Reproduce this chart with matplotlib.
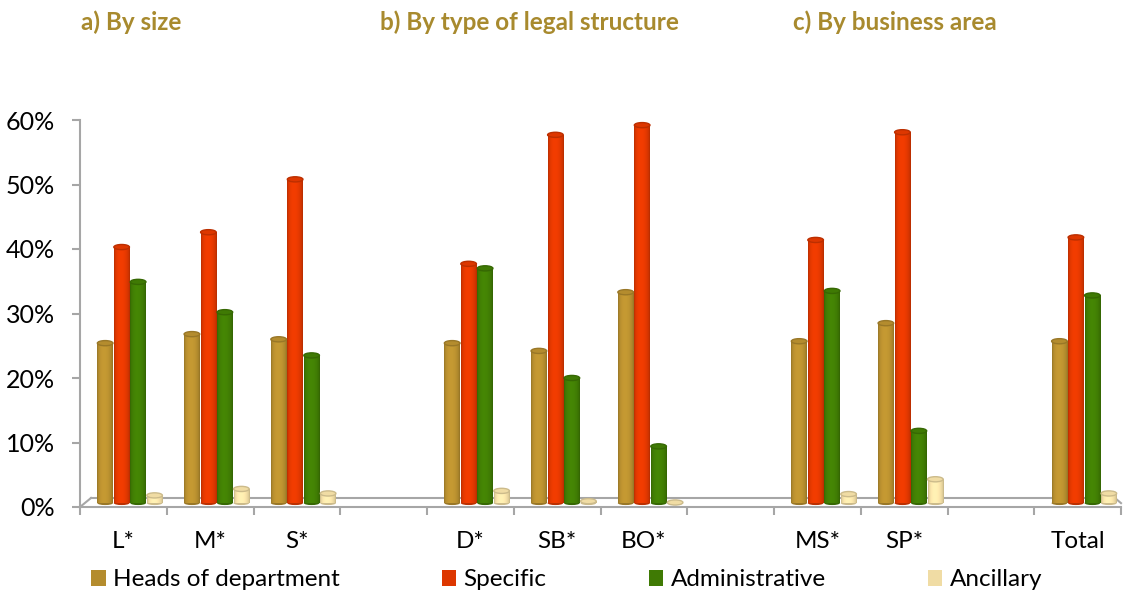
import numpy as np
import matplotlib
matplotlib.use("Agg")
import matplotlib.pyplot as plt
from matplotlib.patches import Ellipse, Rectangle
from matplotlib.colors import to_rgb
from matplotlib.ticker import PercentFormatter

plt.rcParams['font.family'] = ['Lato', 'DejaVu Sans']

categories = ['L*', 'M*', 'S*', '', 'D*', 'SB*', 'BO*', '', 'MS*', 'SP*', '', 'Total']
heads =          [0.248, 0.262, 0.254, None, 0.248, 0.236, 0.327, None, 0.251, 0.279, None, 0.251]
specific =       [0.397, 0.420, 0.502, None, 0.371, 0.571, 0.586, None, 0.408, 0.575, None, 0.412]
administrative = [0.343, 0.296, 0.229, None, 0.364, 0.194, 0.088, None, 0.329, 0.112, None, 0.322]
ancillary =      [0.012, 0.022, 0.015, None, 0.019, 0.003, 0.001, None, 0.014, 0.037, None, 0.015]

series_names = ['Heads of department', 'Specific', 'Administrative', 'Ancillary']
series_values = [heads, specific, administrative, ancillary]
colors = ['#B48C2E', '#DD3700', '#3F7A04', '#F0DCA4']
group_titles = ['a) By size', 'b) By type of legal structure', 'c) By business area']

fig = plt.figure(figsize=(11.24, 5.94), dpi=100)
ax = fig.add_axes([80/1124, 1-507/594, (1121-80)/1124, (507-120)/594])

gray = '#A6A6A6'
bw = 0.18
step = 0.19
shift = 0.075
floor = 0.006
n = len(categories)
x = np.arange(n)


def shade_img(color):
    t = np.linspace(0, 1, 64)
    f = 0.78 + 0.32 * np.clip(np.sin(np.pi * (t ** 0.85)), 0, 1) ** 0.5
    c = np.array(to_rgb(color))
    rgb = np.clip(c[None, :] * f[:, None], 0, 1)
    return rgb[None, :, :]


for si, (vals, col) in enumerate(zip(series_values, colors)):
    img = shade_img(col)
    for i, v in enumerate(vals):
        if v is None:
            continue
        xc = x[i] + shift + (si - 1.5) * step
        bars = ax.bar(xc, v, width=bw, bottom=floor, color=col, edgecolor='none', zorder=2)
        patch = bars.patches[0]
        im = ax.imshow(img, extent=[xc - bw/2, xc + bw/2, floor, floor + v],
                       aspect='auto', zorder=2.1, interpolation='bilinear')
        im.set_clip_path(patch)
        top_c = np.clip(np.array(to_rgb(col)) * 0.85, 0, 1)
        ax.add_patch(Ellipse((xc, floor + v), bw, 0.008, facecolor=col,
                             edgecolor=top_c, linewidth=1.0, zorder=2.2))
        ax.add_patch(Ellipse((xc, floor), bw, 0.006, facecolor=top_c,
                             edgecolor='none', zorder=1.9))

# floor (3D base)
dx = 0.127
dy = 0.014
ax.plot([-0.5, -0.5 + dx], [0, dy], color=gray, lw=1.5, clip_on=False, zorder=1)
ax.plot([-0.5 + dx, n - 0.5 - 0.07], [dy, dy], color=gray, lw=1.5, clip_on=False, zorder=1)
ax.plot([n - 0.5 - 0.07, n - 0.5], [dy, dy - 0.008], color=gray, lw=1.5, clip_on=False, zorder=1)

ax.set_xlim(-0.5, n - 0.5)
ax.set_ylim(0, 0.6)
ax.set_yticks(np.arange(0, 0.61, 0.1))
ax.yaxis.set_major_formatter(PercentFormatter(1.0, decimals=0))
ax.set_xticks(x)
ax.set_xticklabels(categories)
ax.set_xticks(np.arange(-0.5, n, 1.0), minor=True)
ax.tick_params(axis='x', which='major', length=0, pad=17, labelsize=17.5)
ax.tick_params(axis='x', which='minor', length=6, width=1.5, color=gray)
ax.tick_params(axis='y', length=6, width=1.5, color=gray, pad=12, labelsize=18)

for s in ['top', 'right']:
    ax.spines[s].set_visible(False)
for s in ['left', 'bottom']:
    ax.spines[s].set_color(gray)
    ax.spines[s].set_linewidth(1.5)

title_color = '#A88A2E'
for tx, t in zip([131, 529, 895], group_titles):
    fig.text(tx/1124, 1-22/594, t, ha='center', va='center', fontsize=17.5,
             fontweight='bold', color=title_color)

handles = [Rectangle((0, 0), 1, 1, facecolor=c, edgecolor='none') for c in colors]
fig.legend(handles, series_names, ncol=4, loc='center left',
           bbox_to_anchor=(91/1124, 1-580/594), frameon=False, fontsize=17.5,
           handlelength=0.6, handleheight=0.6, handletextpad=0.3,
           columnspacing=4.2, borderpad=0, borderaxespad=0)

fig.savefig('out.png', dpi=100)
